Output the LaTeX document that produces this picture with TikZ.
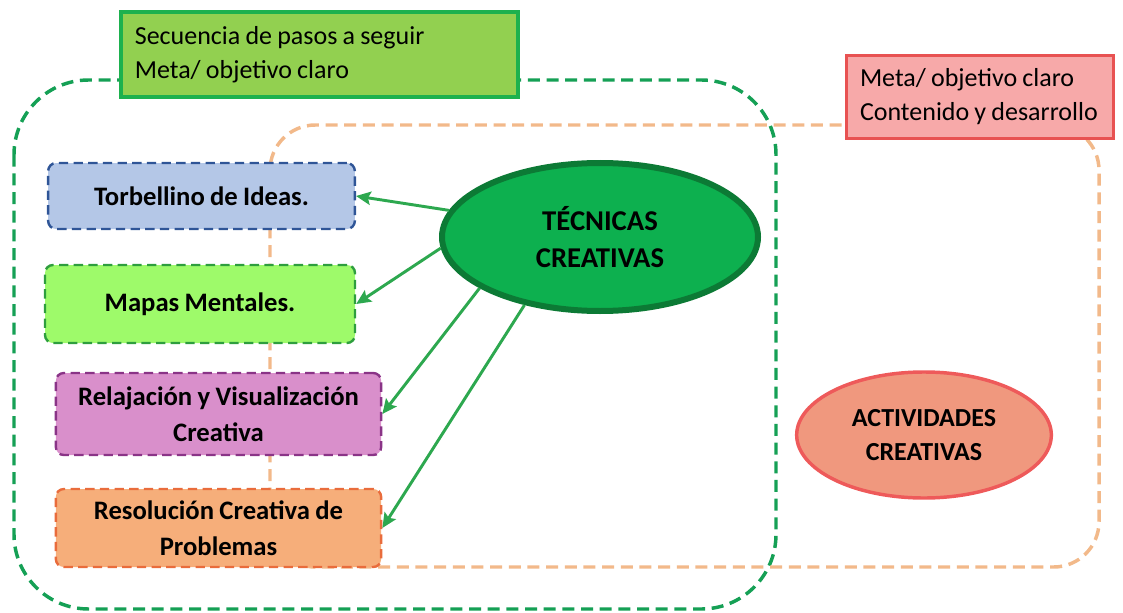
\documentclass[tikz,border=0pt]{standalone}
\usepackage{fontspec}
\setmainfont{Carlito}
\usepackage{tikz}
\usetikzlibrary{arrows.meta,shapes.geometric}
\definecolor{marcoverde}{HTML}{15A055}
\definecolor{marconaranja}{HTML}{F2B98A}
\definecolor{notaverde}{HTML}{92D050}
\definecolor{notaverdeb}{HTML}{1DB14E}
\definecolor{notarosa}{HTML}{F7A9A9}
\definecolor{notarosab}{HTML}{E85252}
\definecolor{azul}{HTML}{B4C7E7}
\definecolor{azulb}{HTML}{2F5597}
\definecolor{lima}{HTML}{9EFA6A}
\definecolor{limab}{HTML}{2E9E3E}
\definecolor{orquidea}{HTML}{D98FCB}
\definecolor{orquideab}{HTML}{8A3487}
\definecolor{melon}{HTML}{F6AE7A}
\definecolor{melonb}{HTML}{E96C3C}
\definecolor{tecfill}{HTML}{0DB04F}
\definecolor{tecborde}{HTML}{0C7A35}
\definecolor{actfill}{HTML}{F0987E}
\definecolor{actborde}{HTML}{EE5A5A}
\definecolor{flechaverde}{HTML}{2DA84F}
\tikzset{
every node/.style = {execute at begin node={\spaceskip=0.2em plus 0.05em\relax}},
box/.style = {rectangle, rounded corners=6pt, draw, line width=1.8pt, dash pattern=on 7pt off 4pt,
  font=\fontsize{20}{27}\selectfont\bfseries, align=center, minimum width = #1},
box/.default = 230pt, % width of the technique boxes
nota/.style = {rectangle, line width=2.6pt, align=left, inner xsep=10pt,
  font=\fontsize{19.5}{25.5}\selectfont, anchor=center},
oval/.style = {ellipse, inner sep=0pt, align=center, font=\fontsize{21.5}{28}\selectfont\bfseries},
marco/.style = {line width=2.6pt, dash pattern=on 9pt off 5pt},
flecha/.style = {-{Stealth[length=11pt,width=10pt,inset=2pt]}, line width=2.2pt, draw=flechaverde, fill=flechaverde},
}

\begin{document}
\begin{tikzpicture}[x=0.75pt, y=-0.75pt]
    \useasboundingbox (0,0) rectangle (1123,613);
    % dashed frames
    \draw[marco, draw=marcoverde, rounded corners=56pt] (14,80) rectangle (776,609);
    \draw[marco, draw=marconaranja, rounded corners=34pt] (270,125) rectangle (1099,567);

    \node[nota, fill=notaverde, draw=notaverdeb, minimum width=298pt, minimum height=64pt, text width=277pt] (pasos) at (319.5,54.5) {Secuencia de pasos a seguir\\Meta/ objetivo claro};
    \node[nota, fill=notarosa, draw=notarosab, minimum width=196.5pt, minimum height=62pt, text width=180pt] (meta) at (980,97) {Meta/ objetivo claro\\Contenido y desarrollo};

    \node[box=230pt, minimum height=49.5pt, fill=azul, draw=azulb] (torb) at (201.5,196) {Torbellino de Ideas.};
    \node[box=232.5pt, minimum height=58.5pt, fill=lima, draw=limab] (mapas) at (200,304) {Mapas Mentales.};
    \node[box=244pt, minimum height=61.5pt, fill=orquidea, draw=orquideab] (relaj) at (218.5,414) {Relajación y Visualización\\Creativa};
    \node[box=244pt, minimum height=58.5pt, fill=melon, draw=melonb] (resol) at (218.5,528) {Resolución Creativa de\\Problemas};

    \node[oval, minimum width=237pt, minimum height=111pt, fill=tecfill, draw=tecborde, line width=4.5pt] (tec) at (600,237) {TÉCNICAS\\CREATIVAS};
    \node[oval, minimum width=191pt, minimum height=94.5pt, fill=actfill, draw=actborde, line width=2.6pt, font=\fontsize{19.5}{25}\selectfont\bfseries] (act) at (924,435) {ACTIVIDADES\\CREATIVAS};

    \draw[flecha] (tec.170) -- (torb.east);
    \draw[flecha] (tec.184) -- (mapas.east);
    \draw[flecha] (tec.203) -- (relaj.east);
    \draw[flecha] (tec.222) -- (resol.east);
\end{tikzpicture}
\end{document}
